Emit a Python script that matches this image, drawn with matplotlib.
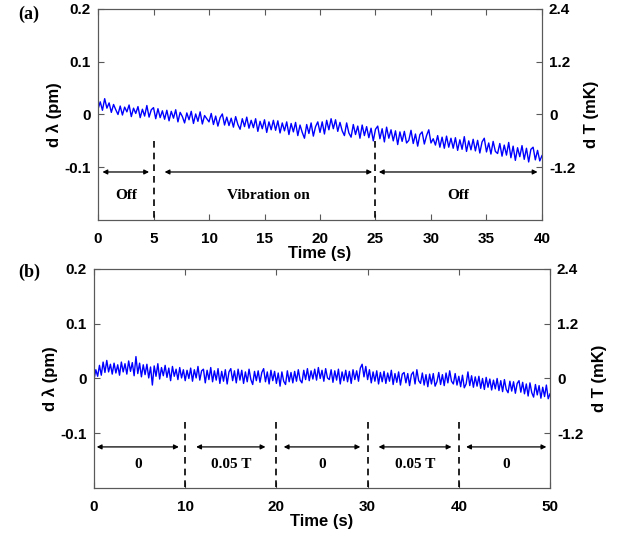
import numpy as np
import matplotlib
matplotlib.use('Agg')
import matplotlib.pyplot as plt

# panel (a): wavelength shift, vibration off / on / off, sampled every 0.2 s
time_a = np.arange(0, 201) * 0.2
dlam_a = [
    0.010, 0.024, 0.008, 0.030, 0.012, 0.022, 0.004, 0.019, 0.009, 0.000,
    0.016, -0.001, 0.014, 0.005, 0.018, -0.004, 0.012, 0.002, 0.015, -0.006,
    0.010, -0.003, 0.017, -0.005, 0.009, 0.013, -0.008, 0.011, -0.006, 0.007,
    -0.009, 0.008, -0.012, 0.006, -0.007, 0.009, -0.014, 0.004, -0.004, -0.016,
    0.003, -0.010, 0.006, -0.017, 0.001, -0.013, 0.005, -0.018, -0.002, -0.008,
    -0.014, 0.002, -0.019, -0.003, -0.022, -0.006, 0.001, -0.020, -0.005, -0.021,
    -0.007, -0.024, -0.004, -0.019, -0.028, -0.008, -0.023, -0.005, -0.026, -0.011,
    -0.025, -0.008, -0.032, -0.013, -0.027, -0.010, -0.034, -0.014, -0.029, -0.011,
    -0.030, -0.012, -0.035, -0.016, -0.031, -0.014, -0.038, -0.017, -0.033, -0.015,
    -0.040, -0.020, -0.034, -0.045, -0.019, -0.036, -0.016, -0.041, -0.023, -0.014,
    -0.034, -0.014, -0.037, -0.011, -0.029, -0.008, -0.027, -0.010, -0.032, -0.015,
    -0.031, -0.040, -0.016, -0.035, -0.043, -0.019, -0.038, -0.022, -0.045, -0.020,
    -0.040, -0.023, -0.044, -0.026, -0.050, -0.028, -0.022, -0.046, -0.027, -0.052,
    -0.024, -0.045, -0.029, -0.050, -0.031, -0.057, -0.033, -0.051, -0.032, -0.054,
    -0.049, -0.030, -0.055, -0.037, -0.060, -0.038, -0.033, -0.056, -0.040, -0.029,
    -0.054, -0.046, -0.058, -0.040, -0.062, -0.043, -0.064, -0.041, -0.062, -0.045,
    -0.064, -0.044, -0.068, -0.048, -0.066, -0.042, -0.070, -0.050, -0.067, -0.047,
    -0.069, -0.049, -0.073, -0.052, -0.045, -0.071, -0.054, -0.075, -0.051, -0.070,
    -0.074, -0.055, -0.079, -0.058, -0.077, -0.053, -0.082, -0.060, -0.087, -0.063,
    -0.080, -0.059, -0.085, -0.064, -0.090, -0.066, -0.062, -0.086, -0.068, -0.088,
    -0.078,
]

# panel (b): wavelength shift for field 0 / 0.05 T, sampled every 0.2 s
time_b = np.arange(0, 251) * 0.2
dlam_b = [
    -0.002, 0.016, 0.004, 0.024, 0.006, 0.030, 0.011, 0.033, 0.012, 0.026,
    0.008, 0.028, 0.010, 0.025, 0.006, 0.030, 0.012, 0.027, 0.008, 0.032,
    0.013, 0.029, 0.005, 0.040, 0.009, 0.028, 0.003, 0.025, 0.007, 0.026,
    0.001, 0.021, -0.012, 0.023, 0.004, 0.027, -0.001, 0.020, 0.005, 0.024,
    0.002, 0.019, -0.004, 0.022, 0.004, 0.017, -0.002, 0.020, 0.001, 0.016,
    -0.004, 0.015, 0.000, 0.019, -0.005, 0.016, 0.001, 0.022, -0.003, 0.014,
    0.017, -0.008, 0.015, -0.002, 0.020, -0.006, 0.014, -0.003, 0.018, -0.009,
    0.013, -0.005, 0.016, -0.010, 0.012, 0.018, -0.004, 0.014, -0.008, 0.017,
    -0.003, 0.015, -0.009, 0.012, -0.006, 0.017, -0.002, -0.011, 0.013, -0.004,
    0.014, -0.007, 0.011, 0.018, -0.006, 0.012, -0.010, 0.015, -0.004, 0.013,
    -0.009, 0.010, -0.014, 0.012, -0.005, -0.011, 0.014, -0.006, 0.011, -0.008,
    0.013, -0.005, 0.016, -0.003, -0.008, 0.015, -0.002, 0.018, -0.004, 0.014,
    -0.001, 0.017, -0.003, 0.020, 0.000, 0.015, -0.005, 0.018, 0.001, -0.002,
    0.016, -0.007, 0.014, -0.003, 0.017, -0.010, 0.012, -0.004, 0.015, -0.006,
    0.013, -0.009, 0.016, -0.002, 0.014, -0.005, 0.019, 0.026, 0.003, 0.022,
    -0.002, 0.016, -0.008, 0.012, -0.005, 0.014, -0.010, 0.011, -0.006, 0.013,
    -0.009, 0.010, -0.005, 0.015, -0.011, 0.009, -0.007, 0.012, -0.012, 0.008,
    0.011, -0.008, 0.009, -0.013, 0.007, 0.012, -0.010, 0.016, -0.004, -0.009,
    0.010, -0.012, 0.007, -0.015, 0.008, -0.010, 0.009, -0.014, -0.006, 0.011,
    -0.011, 0.007, -0.013, 0.010, -0.008, 0.014, -0.005, -0.010, 0.009, -0.012,
    0.004, -0.015, 0.006, -0.017, -0.010, 0.012, -0.013, 0.005, -0.016, 0.003,
    -0.014, 0.004, -0.018, 0.000, -0.020, 0.002, -0.016, -0.001, -0.021, -0.003,
    -0.019, 0.000, -0.022, -0.004, -0.024, -0.002, -0.020, -0.026, -0.005, -0.023,
    -0.006, -0.027, -0.009, -0.004, -0.025, -0.007, -0.028, -0.010, -0.032, -0.008,
    -0.026, -0.034, -0.011, -0.030, -0.013, -0.036, -0.016, -0.033, -0.012, -0.037,
    -0.028,
]

# annotations
bounds_a = [5, 25]
segments_a = [(0.4, 4.6), (6.0, 24.7), (25.3, 39.6)]
labels_a = ['Off', 'Vibration on', 'Off']
bounds_b = [10, 20, 30, 40]
segments_b = [(0.3, 9.3), (11.2, 18.8), (20.8, 29.2), (31.2, 39.2), (40.8, 49.6)]
labels_b = ['0', '0.05 T', '0', '0.05 T', '0']

sans = 'Liberation Sans'
serif = 'Liberation Serif'
spine_col = '0.35'


def style_panel(ax, t, y, xmax, xticks, dash_top, bounds, segments, labels, arrow_y, text_y):
    ax.plot(t, y, color='#0000ff', linewidth=1.0)
    ax.set_xlim(0, xmax)
    ax.set_ylim(-0.2, 0.2)
    ax.set_xticks(xticks)
    ax.set_yticks([-0.1, 0, 0.1, 0.2])
    ax.set_yticklabels(['-0.1', '0', '0.1', '0.2'])
    ax.tick_params(direction='in', top=True, length=4, width=0.8, color=spine_col,
                   labelsize=11, pad=5)
    ax.tick_params(axis='x', pad=9)
    for lab in ax.get_xticklabels() + ax.get_yticklabels():
        lab.set_fontfamily(sans)
        lab.set_fontweight('bold')
    for sp in ax.spines.values():
        sp.set_color(spine_col)
    ax.set_xlabel('Time (s)', fontfamily=sans, fontweight='bold', fontsize=12, labelpad=0)
    ax.set_ylabel('d λ (pm)', fontfamily=sans, fontweight='bold', fontsize=12, labelpad=2)
    for b in bounds:
        ax.plot([b, b], [dash_top, -0.2], color='black', linestyle=(0, (4, 3)), linewidth=1.2)
    for (x0, x1), lab in zip(segments, labels):
        ax.annotate('', xy=(x0, arrow_y), xytext=(x1, arrow_y),
                    arrowprops=dict(arrowstyle='<|-|>', color='black', lw=0.9,
                                    mutation_scale=7, shrinkA=0, shrinkB=0))
        ax.text((x0 + x1) / 2, text_y, lab, ha='center', va='center',
                fontfamily=serif, fontweight='bold', fontsize=11)
    ax2 = ax.twinx()
    ax2.set_ylim(-2.4, 2.4)
    ax2.set_yticks([-1.2, 0, 1.2, 2.4])
    ax2.set_yticklabels(['-1.2', '0', '1.2', '2.4'])
    ax2.tick_params(direction='in', length=4, width=0.8, color=spine_col, labelsize=11, pad=5)
    for lab in ax2.get_yticklabels():
        lab.set_fontfamily(sans)
        lab.set_fontweight('bold')
    for sp in ax2.spines.values():
        sp.set_color(spine_col)
    ax2.set_ylabel('d T (mK)', fontfamily=sans, fontweight='bold', fontsize=12, labelpad=6)
    return ax2


fig = plt.figure(figsize=(6.18, 5.35), dpi=100)
ax_a = fig.add_axes([0.1586, 0.5888, 0.7184, 0.3944])
ax_b = fig.add_axes([0.1521, 0.0879, 0.7379, 0.4093])

style_panel(ax_a, time_a, dlam_a, 40, [0, 5, 10, 15, 20, 25, 30, 35, 40], -0.05,
            bounds_a, segments_a, labels_a, -0.109, -0.153)
style_panel(ax_b, time_b, dlam_b, 50, [0, 10, 20, 30, 40, 50], -0.08,
            bounds_b, segments_b, labels_b, -0.125, -0.158)

fig.text(0.03, 0.965, '(a)', fontfamily=serif, fontweight='bold', fontsize=13)
fig.text(0.03, 0.483, '(b)', fontfamily=serif, fontweight='bold', fontsize=13)

fig.savefig('out.png', dpi=100)
